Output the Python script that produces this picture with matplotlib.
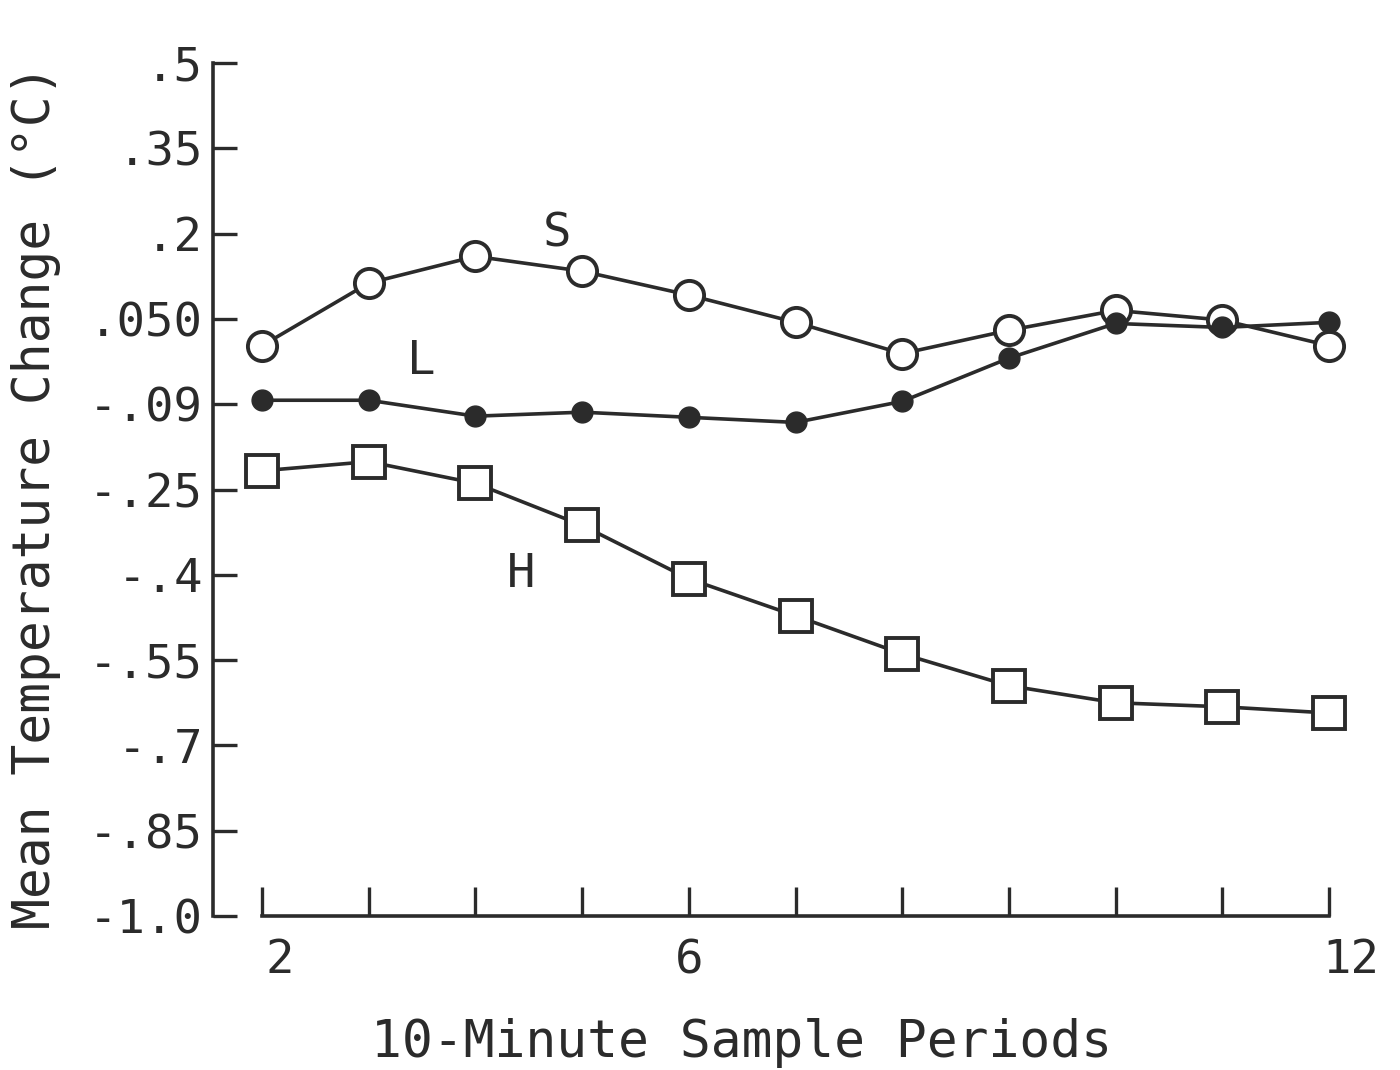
import matplotlib
matplotlib.use("Agg")
import matplotlib.pyplot as plt
import matplotlib.transforms as mtransforms
import numpy as np

# periods and mean temperature change per group
periods = [2, 3, 4, 5, 6, 7, 8, 9, 10, 11, 12]
s_values = [0.003, 0.113, 0.160, 0.134, 0.092, 0.044, -0.011, 0.030, 0.065, 0.048, 0.003]
l_values = [-0.093, -0.093, -0.121, -0.114, -0.123, -0.132, -0.095, -0.019, 0.042, 0.035, 0.044]
h_values = [-0.217, -0.201, -0.239, -0.313, -0.407, -0.472, -0.539, -0.595, -0.625, -0.632, -0.643]

y_ticks = [0.5, 0.35, 0.2, 0.05, -0.1, -0.25, -0.4, -0.55, -0.7, -0.85, -1.0]
y_ticklabels = [".5", ".35", ".2", ".050", "-.09", "-.25", "-.4", "-.55", "-.7", "-.85", "-1.0"]
x_ticklabels = {2: "2", 6: "6", 12: "12"}

ink = "#2b2b2b"
mono = "DejaVu Sans Mono"
plt.rcParams['font.family'] = mono

fig = plt.figure(figsize=(14, 10.7), dpi=100)
ax = fig.add_axes([0.1521, 0.1439, 0.801, 0.7972])

ax.plot(periods, s_values, color=ink, lw=2.6, marker='o', ms=21,
        mfc='white', mec=ink, mew=2.8, zorder=3, clip_on=False)
ax.plot(periods, l_values, color=ink, lw=2.6, marker='o', ms=15,
        mfc=ink, mec=ink, zorder=4, clip_on=False)
ax.plot(periods, h_values, color=ink, lw=2.6, marker='s', ms=23,
        mfc='white', mec=ink, mew=2.8, zorder=3, clip_on=False)

ax.text(4.76, 0.2, "S", fontsize=34, color=ink, ha='center', va='center')
ax.text(3.49, -0.025, "L", fontsize=34, color=ink, ha='center', va='center')
ax.text(4.43, -0.4, "H", fontsize=34, color=ink, ha='center', va='center')

ax.set_xlim(1.54, 12.05)
ax.set_ylim(-1.0, 0.5)

for side in ['top', 'right']:
    ax.spines[side].set_visible(False)
ax.spines['left'].set_bounds(-1.0, 0.5)
ax.spines['bottom'].set_bounds(2, 12)
for side in ['left', 'bottom']:
    ax.spines[side].set_linewidth(2.6)
    ax.spines[side].set_color(ink)

ax.set_yticks(y_ticks)
ax.set_yticklabels(y_ticklabels)
ax.set_xticks(periods)
ax.set_xticklabels([x_ticklabels.get(p, "") for p in periods])
ax.tick_params(axis='y', direction='in', length=17, width=2.4, color=ink,
               labelsize=34, labelcolor=ink, pad=7)
ax.tick_params(axis='x', direction='in', length=21, width=2.4, color=ink,
               labelsize=34, labelcolor=ink, pad=16)
shifts = {"2": 18, "12": 22}
for lab in ax.get_xticklabels():
    dx = shifts.get(lab.get_text())
    if dx:
        lab.set_transform(lab.get_transform() +
                          mtransforms.ScaledTranslation(dx / 100, 0, fig.dpi_scale_trans))

ax.set_xlabel("10-Minute Sample Periods", fontsize=37, color=ink, va='center')
ax.xaxis.set_label_coords(0.4717, -0.149)
ax.set_ylabel("Mean Temperature Change (°C)", fontsize=37, color=ink, va='center')
ax.yaxis.set_label_coords(-0.158, 0.491)

fig.savefig("out.png", dpi=100, facecolor='white')
